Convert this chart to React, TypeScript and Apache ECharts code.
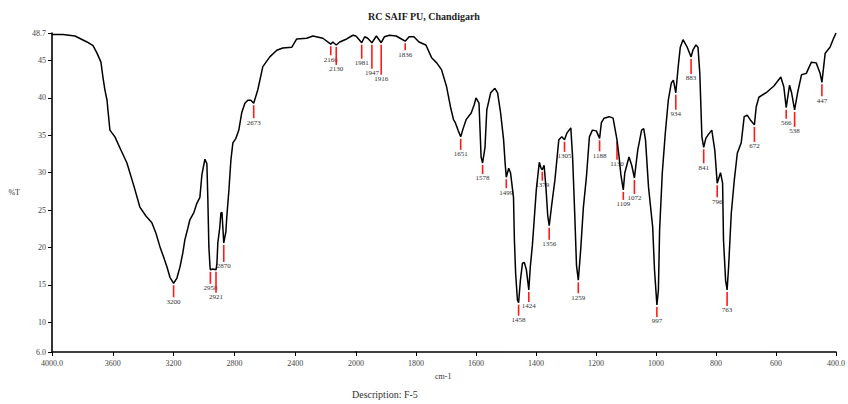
import React, { useEffect, useRef } from "react";
import * as echarts from "echarts";

// Spectrum, 4000–2000 cm-1 region: [wavenumber, %T]
const spectrumHigh: [number, number][] = [
  [4000, 48.5], [3928, 48.5], [3849, 48.3], [3770, 47.5], [3730, 47.0], [3704, 46.0], [3678, 44.8],
  [3665, 42.8], [3652, 41.1], [3638, 39.7], [3632, 38.4], [3619, 35.7], [3586, 34.8], [3546, 33.0],
  [3507, 31.3], [3461, 28.2], [3422, 25.4], [3382, 24.2], [3343, 23.3], [3316, 21.9], [3290, 20.1],
  [3264, 18.6], [3244, 17.4], [3224, 16.0], [3200, 15.2], [3178, 15.9], [3158, 17.4], [3139, 19.3],
  [3126, 21.0], [3106, 22.6], [3093, 23.7], [3066, 24.7], [3047, 25.9], [3027, 26.7], [3014, 29.7],
  [2994, 31.8], [2981, 31.2], [2975, 26.7], [2968, 20.1], [2961, 17.6], [2958, 17.0], [2942, 17.1],
  [2921, 17.0], [2915, 17.8], [2909, 20.6], [2896, 22.7], [2889, 24.6], [2882, 24.7], [2876, 22.7],
  [2870, 20.6], [2856, 22.1], [2850, 24.1], [2836, 27.7], [2823, 31.7], [2810, 34.0], [2790, 34.6],
  [2771, 35.7], [2751, 38.1], [2731, 39.3], [2712, 39.7], [2692, 39.7], [2673, 39.3], [2646, 41.1],
  [2613, 44.2], [2567, 45.5], [2521, 46.4], [2482, 46.7], [2422, 46.8], [2390, 47.9], [2324, 48.0],
  [2284, 48.3], [2218, 48.0], [2166, 47.2], [2153, 47.5], [2130, 47.1], [2107, 47.5], [2061, 47.9],
  [2021, 48.4], [2000, 48.3],
];

// Spectrum, 2000–400 cm-1 region: [wavenumber, %T]
const spectrumLow: [number, number][] = [
  [2000, 48.3], [1998, 48.3], [1981, 47.4], [1971, 48.2], [1961, 48.0], [1947, 47.4], [1932, 48.3],
  [1916, 47.4], [1905, 48.2], [1889, 48.4], [1866, 48.3], [1853, 48.0], [1836, 47.6], [1823, 48.2],
  [1807, 48.2], [1790, 47.5], [1767, 47.1], [1748, 45.4], [1731, 44.7], [1715, 43.8], [1698, 41.5],
  [1685, 38.8], [1675, 37.1], [1669, 36.7], [1659, 35.6], [1651, 34.8], [1643, 35.9], [1633, 37.1],
  [1616, 38.0], [1606, 39.1], [1600, 40.0], [1590, 39.3], [1583, 32.1], [1578, 31.3], [1570, 33.4],
  [1564, 38.4], [1551, 40.7], [1537, 41.3], [1528, 40.7], [1518, 38.0], [1508, 34.4], [1503, 31.3],
  [1499, 29.4], [1491, 30.6], [1485, 30.0], [1475, 26.7], [1472, 21.0], [1468, 16.6], [1462, 13.0],
  [1458, 12.6], [1452, 15.6], [1445, 17.9], [1439, 18.0], [1432, 17.0], [1424, 14.3], [1419, 17.4],
  [1412, 20.3], [1406, 23.7], [1399, 27.7], [1389, 31.4], [1383, 30.6], [1379, 30.4], [1373, 31.0],
  [1367, 28.1], [1361, 24.3], [1356, 22.9], [1347, 25.9], [1337, 29.0], [1324, 34.4], [1314, 34.8],
  [1305, 34.4], [1297, 35.3], [1284, 36.0], [1278, 32.1], [1271, 24.6], [1265, 17.6], [1259, 15.6],
  [1251, 19.7], [1242, 25.4], [1232, 29.4], [1222, 34.8], [1212, 35.7], [1199, 35.6], [1188, 34.6],
  [1182, 36.7], [1173, 37.3], [1156, 37.5], [1143, 37.3], [1130, 34.4], [1123, 32.1], [1117, 29.7],
  [1109, 27.7], [1104, 30.0], [1090, 32.1], [1081, 31.0], [1072, 29.3], [1061, 33.0], [1048, 35.7],
  [1041, 35.9], [1035, 34.4], [1025, 28.1], [1011, 22.7], [1005, 17.0], [997, 12.3], [992, 14.3],
  [988, 22.3], [979, 30.0], [969, 35.3], [959, 39.7], [949, 42.0], [942, 42.4], [934, 40.7],
  [926, 44.2], [919, 46.8], [910, 47.8], [896, 46.8], [883, 45.5], [877, 46.4], [867, 47.1],
  [860, 46.8], [854, 43.3], [847, 34.8], [841, 33.4], [834, 34.6], [824, 35.2], [814, 35.7],
  [804, 33.0], [796, 28.6], [785, 30.0], [778, 28.6], [775, 21.0], [768, 15.6], [763, 14.3],
  [758, 17.4], [749, 24.6], [739, 29.0], [729, 32.6], [716, 34.0], [706, 37.5], [696, 37.7],
  [686, 37.1], [672, 36.4], [666, 38.8], [657, 40.1], [630, 40.8], [607, 41.6], [584, 42.8],
  [574, 41.5], [566, 38.7], [555, 41.7], [548, 40.7], [538, 38.4], [528, 40.7], [515, 43.1],
  [499, 43.3], [482, 44.8], [466, 44.7], [453, 43.3], [447, 42.1], [436, 46.0], [420, 46.8],
  [410, 47.8], [400, 48.7],
];

// Labelled peaks
const peakWavenumbers = [
  3200, 2958, 2921, 2870, 2673, 2166, 2130, 1981, 1947, 1916, 1836, 1651, 1578, 1499, 1458, 1424,
  1379, 1356, 1305, 1259, 1188, 1130, 1109, 1072, 997, 934, 883, 841, 796, 763, 672, 566, 538, 447,
];
const peakTransmittance = [
  15.2, 17.0, 17.0, 20.6, 39.3, 47.2, 47.1, 47.4, 47.4, 47.4, 47.6, 34.8, 31.3, 29.4, 12.6, 14.3,
  30.4, 22.9, 34.4, 15.6, 34.6, 34.4, 27.7, 29.3, 12.3, 40.7, 45.5, 33.4, 28.6, 14.3, 36.4, 38.7, 38.4, 42.1,
];
// layout only: length (px) of each red peak marker
const peakMarkerLength = [
  12, 12, 21, 17, 13, 9, 18, 14, 24, 30, 7, 11, 9, 9, 11, 10,
  9, 12, 10, 11, 11, 18, 8, 14, 10, 15, 15, 14, 12, 14, 15, 9, 15, 12,
];

const SERIF = "'Liberation Serif', 'DejaVu Serif', serif";

const peakRender = (_params: any, api: any) => {
  const p = api.coord([api.value(0), api.value(1)]);
  const len = api.value(2);
  const y0 = p[1] + 2;
  const y1 = y0 + len;
  return {
    type: "group",
    children: [
      {
        type: "line",
        shape: { x1: p[0], y1: y0, x2: p[0], y2: y1 },
        style: { stroke: "#ff1a1a", lineWidth: 1.6 },
      },
      {
        type: "text",
        style: {
          text: String(api.value(0)),
          x: p[0],
          y: y1 + 1,
          align: "center",
          verticalAlign: "top",
          fontSize: 7,
          fontFamily: SERIF,
          fill: "#333",
        },
      },
    ],
  };
};

export default function App() {
  const ref = useRef<HTMLDivElement>(null);

  useEffect(() => {
    if (!ref.current) return;
    const chart = echarts.init(ref.current, null, { renderer: "svg" });

    const peaks = peakWavenumbers.map((w, i) => [w, peakTransmittance[i], peakMarkerLength[i]]);
    const peaksHigh = peaks.filter((p) => p[0] >= 2000);
    const peaksLow = peaks.filter((p) => p[0] < 2000);

    const axisLine = { show: true, lineStyle: { color: "#000", width: 1.6 } };
    const axisTick = { show: true, length: 4, lineStyle: { color: "#000", width: 1 } };
    const tickLabel = { fontSize: 8, color: "#444", fontFamily: SERIF, margin: 7 };

    chart.setOption({
      animation: false,
      backgroundColor: "#fff",
      title: {
        text: "RC SAIF PU, Chandigarh",
        left: "center",
        top: 6,
        textStyle: { fontSize: 10, fontWeight: "bold", fontFamily: SERIF, color: "#222" },
      },
      grid: [
        { left: 52, top: 33, width: 304, height: 319 },
        { left: 356, top: 33, width: 487, height: 319 },
      ],
      xAxis: [
        {
          gridIndex: 0,
          type: "value",
          min: 2000,
          max: 4000,
          interval: 400,
          inverse: true,
          axisLine,
          axisTick,
          splitLine: { show: false },
          axisLabel: {
            ...tickLabel,
            showMinLabel: false,
            formatter: (v: number) => (v === 4000 ? "4000.0" : String(v)),
          },
        },
        {
          gridIndex: 1,
          type: "value",
          min: 400,
          max: 2000,
          interval: 200,
          inverse: true,
          axisLine,
          axisTick,
          splitLine: { show: false },
          axisLabel: {
            ...tickLabel,
            formatter: (v: number) => (v === 400 ? "400.0" : String(v)),
          },
        },
      ],
      yAxis: [
        {
          gridIndex: 0,
          type: "value",
          min: 6,
          max: 48.7,
          splitNumber: 8,
          axisLine,
          axisTick,
          splitLine: { show: false },
          name: "%T",
          nameLocation: "middle",
          nameRotate: 0,
          nameGap: 32,
          nameTextStyle: { fontSize: 8, color: "#333", fontFamily: SERIF },
          axisLabel: {
            ...tickLabel,
            margin: 6,
            showMinLabel: true,
            showMaxLabel: true,
            formatter: (v: number) =>
              v === 6 ? "6.0" : Math.abs(v - 48.7) < 1e-6 ? "48.7" : String(v),
          },
        },
        {
          gridIndex: 1,
          type: "value",
          min: 6,
          max: 48.7,
          splitNumber: 8,
          show: false,
        },
      ],
      series: [
        {
          type: "line",
          xAxisIndex: 0,
          yAxisIndex: 0,
          data: spectrumHigh,
          showSymbol: false,
          lineStyle: { color: "#000", width: 1.5 },
        },
        {
          type: "line",
          xAxisIndex: 1,
          yAxisIndex: 1,
          data: spectrumLow,
          showSymbol: false,
          lineStyle: { color: "#000", width: 1.5 },
        },
        {
          type: "custom",
          xAxisIndex: 0,
          yAxisIndex: 0,
          data: peaksHigh,
          renderItem: peakRender,
          clip: false,
        },
        {
          type: "custom",
          xAxisIndex: 1,
          yAxisIndex: 1,
          data: peaksLow,
          renderItem: peakRender,
          clip: false,
        },
      ],
      graphic: [
        {
          type: "text",
          left: 435,
          top: 372,
          style: { text: "cm-1", fontSize: 8, fill: "#333", fontFamily: SERIF },
        },
        {
          type: "text",
          left: 352,
          top: 389,
          style: { text: "Description: F-5", fontSize: 10, fill: "#333", fontFamily: SERIF },
        },
      ],
    });

    return () => chart.dispose();
  }, []);

  return (
    <div
      ref={ref}
      style={{ position: "fixed", left: 0, top: 0, width: 848, height: 404, background: "#fff" }}
    />
  );
}
